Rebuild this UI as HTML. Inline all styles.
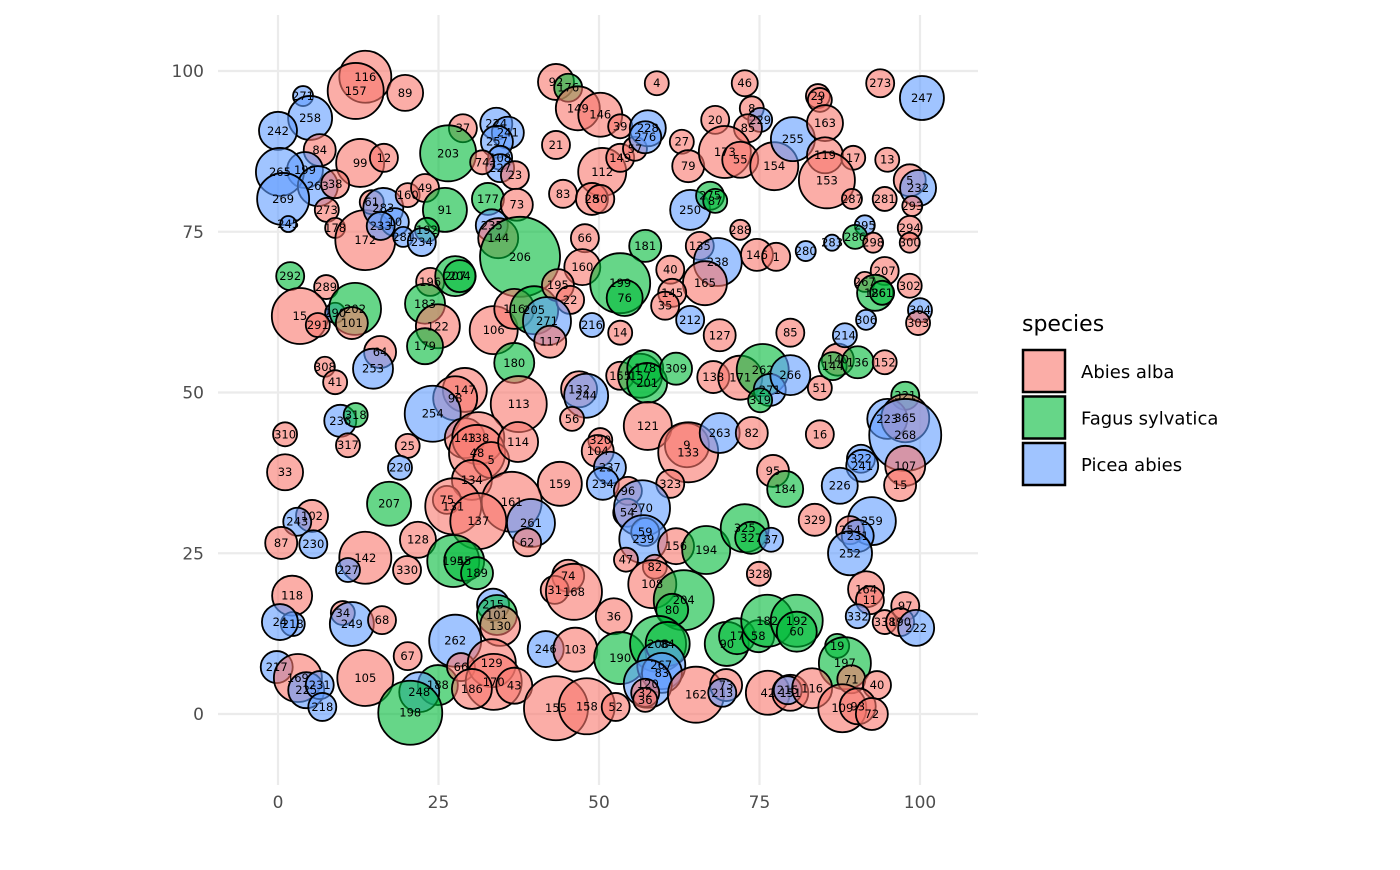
<!DOCTYPE html>
<html><head><meta charset="utf-8"><style>
body{margin:0;background:#fff;}
svg text{font-family:"DejaVu Sans","Liberation Sans",sans-serif;}
</style></head><body>
<svg id="chart" width="1400" height="865" viewBox="0 0 1400 865" xmlns="http://www.w3.org/2000/svg">
<g id="grid"></g>
<g id="marks"></g>
<g id="labels"></g>
<g id="axes"></g>
<g id="legend">
<text x="1022" y="331" font-size="22" fill="#000">species</text>
</g>
</svg>
<script>
const speciesNames = ["Abies alba","Fagus sylvatica","Picea abies"];
const speciesFill = ["rgba(248,118,109,0.6)","rgba(0,186,56,0.6)","rgba(97,156,255,0.6)"];
const xTicks = [0,25,50,75,100];
const yTicks = [0,25,50,75,100];
const treeIds = [116,157,89,271,258,242,84,99,12,199,265,263,38,269,273,245,178,172,61,283,160,10,281,233,49,91,192,234,37,203,224,241,257,108,227,23,74,177,73,235,144,206,92,176,149,146,39,21,112,149,57,4,228,276,27,79,20,46,8,229,85,173,55,154,255,29,3,163,119,17,13,153,287,281,5,232,293,273,247,83,28,50,250,275,87,66,181,288,135,146,1,238,280,283,295,286,298,294,300,160,199,76,40,165,145,35,207,267,186,261,302,304,303,292,289,15,290,291,202,101,196,207,204,183,122,179,64,253,308,41,106,116,205,195,22,271,117,216,14,180,127,85,212,155,157,178,201,309,138,171,262,271,319,266,51,140,144,136,152,214,306,113,147,98,254,132,244,56,121,9,133,263,82,16,321,223,365,268,322,241,107,15,226,95,184,329,259,254,231,252,164,11,97,338,190,222,332,310,236,318,317,25,220,33,143,138,48,5,114,320,104,237,159,234,96,323,134,161,75,131,137,261,62,207,102,243,87,230,142,227,330,128,195,45,189,54,270,59,239,156,194,325,327,37,328,47,82,108,74,31,168,204,80,36,118,34,249,68,218,24,215,101,130,262,246,103,190,208,84,90,17,58,182,192,60,19,197,67,217,169,225,231,218,105,188,248,198,66,129,170,186,43,155,158,52,267,83,120,32,36,162,73,213,42,151,215,116,71,40,109,93,72];
const treeX = [13.6,12.1,19.8,3.9,5.0,0,6.5,12.8,16.5,4.2,0.3,6.2,8.9,0.8,7.6,1.6,8.9,13.6,14.6,16.4,20.2,18.2,19.5,16.0,22.9,26.0,23.2,22.4,28.8,26.5,34.0,35.8,34.1,34.6,34.6,36.9,31.8,32.7,37.2,33.3,34.3,37.7,43.3,45.2,46.7,50.2,53.3,43.3,50.5,53.3,55.6,59.0,57.6,57.2,62.9,63.9,68.1,72.7,73.8,75.1,73.2,69.6,72.0,77.3,80.2,84.1,84.4,85.2,85.2,89.6,94.9,85.5,89.4,94.5,98.4,99.7,98.8,93.8,100.3,44.4,48.9,50.2,64.2,67.3,68.1,47.8,57.2,72.0,65.7,74.6,77.6,68.5,82.2,86.3,91.4,89.9,92.7,98.4,98.4,47.4,53.3,54.0,61.1,66.5,61.4,60.3,94.5,91.4,93.0,94.1,98.4,100,99.7,1.9,7.5,3.4,8.9,6.2,12.0,11.5,23.7,27.6,28.3,22.9,24.9,22.9,15.9,14.8,7.3,8.9,33.6,36.8,39.9,43.6,45.5,41.9,42.4,48.9,53.3,36.8,68.8,79.8,64.2,53.3,56.4,57.2,57.5,62.0,67.8,72.0,75.5,76.6,75.1,79.8,84.4,87.2,86.4,90.3,94.5,88.3,91.6,37.5,29.1,27.6,24.1,46.9,48.0,45.8,57.6,63.7,63.9,68.8,73.8,84.4,97.7,94.9,97.7,97.7,90.8,91.0,97.7,96.9,87.5,77.1,79.0,83.6,92.5,89.1,90.3,89.1,91.6,92.2,97.7,94.5,96.9,99.4,90.3,1.1,9.7,12.1,10.9,20.2,19.0,1.1,29.1,31.2,31.0,33.2,37.4,50.2,49.8,51.7,43.9,50.6,54.5,61.1,30.2,36.4,26.3,27.3,31.2,39.4,38.8,17.3,5.3,3.0,0.5,5.5,13.6,10.9,20.1,21.8,27.3,29.0,31.0,54.4,56.7,57.2,56.9,62.0,66.7,72.7,73.7,76.8,74.9,54.2,58.7,58.3,45.2,43.1,46.1,63.2,61.4,52.3,2.2,10.1,11.5,16.2,2.3,0.3,33.5,34.1,34.6,27.6,41.7,46.3,53.3,59.2,60.7,69.9,71.5,74.8,76.2,80.8,80.8,87.1,88.3,20.2,-0.2,3.1,4.4,6.5,6.9,13.6,24.9,22.0,20.6,28.5,33.3,33.6,30.2,36.8,43.3,48.1,52.6,59.7,59.8,57.6,57.2,57.2,65.1,69.8,69.2,76.3,79.8,79.4,83.2,89.3,93.3,87.9,90.3,92.5];
const treeY = [99.1,96.9,96.6,96.1,92.7,90.7,87.7,85.7,86.5,84.6,84.3,82.1,82.4,80.1,78.4,76.2,75.6,73.7,79.6,78.7,80.7,76.5,74.2,75.9,81.8,78.4,75.3,73.4,91.1,87.2,91.8,90.4,89.0,86.5,84.9,83.8,85.8,80.1,79.2,76.0,74.0,71.1,98.3,97.4,94.2,93.2,91.4,88.5,84.3,86.5,87.9,98.1,91.1,89.7,89.0,85.2,92.4,98.1,94.2,92.4,91.1,87.4,86.2,85.2,89.4,96.1,95.5,91.9,86.9,86.5,86.2,83.0,80.1,80.1,83.0,81.8,79.0,98.1,95.8,80.9,80.1,80.1,78.4,80.6,79.8,74.0,72.8,75.3,72.8,71.4,71.1,70.3,72.0,73.3,76.0,74.2,73.3,75.6,73.3,69.5,67.0,64.7,69.1,67.0,65.5,63.5,68.9,67.2,65.5,65.5,66.6,62.8,60.8,68.1,66.4,61.9,62.4,60.5,63.0,60.8,67.2,68.1,68.1,63.8,60.3,57.2,56.3,53.7,54.0,51.6,59.7,63.0,62.8,66.7,64.4,61.1,57.9,60.5,59.3,54.6,58.9,59.3,61.3,52.6,52.6,53.8,51.5,53.7,52.4,52.3,53.5,50.4,48.8,52.7,50.7,55.1,54.1,54.7,54.7,58.9,61.3,48.2,50.4,49.1,46.7,50.5,49.5,45.9,44.8,41.8,40.7,43.7,43.7,43.5,49.5,45.9,46.0,43.4,39.7,38.6,38.6,35.6,35.5,37.8,35.0,30.2,30.0,28.6,27.7,25.0,19.4,17.7,16.8,14.3,14.3,13.4,15.2,43.5,45.6,46.5,41.8,41.7,38.3,37.6,42.9,42.9,40.6,39.5,42.3,42.6,40.9,38.3,35.8,35.8,34.7,35.8,36.4,33.0,33.3,32.3,30.0,29.7,26.7,32.7,30.8,29.9,26.6,26.4,24.3,22.4,22.4,27.1,23.8,23.8,21.9,31.3,32.0,28.3,27.2,26.1,25.5,28.9,27.4,27.1,21.8,24.0,22.9,20.2,21.5,19.3,19.0,17.7,16.2,15.2,18.4,15.7,14.0,14.6,14.0,14.3,17.0,15.4,13.7,11.4,10.1,10.0,8.7,10.9,10.9,10.9,12.1,12.1,14.5,14.5,12.8,10.6,7.9,9.0,7.3,5.6,3.7,4.5,1.1,5.6,4.5,3.4,0.2,7.3,7.9,5.0,3.9,4.4,0.9,1.2,1.1,7.6,6.4,4.7,3.3,2.2,3.0,4.5,3.3,3.3,3.3,3.7,4.0,5.4,4.5,0.9,1.2,0];
const treeDbh = [26,28,18,10,22,19,16,24,14,18,24,20,14,26,12,8,10,30,12,20,12,14,10,14,14,22,12,14,14,28,16,16,16,12,14,14,12,16,16,16,20,40,18,14,22,22,12,14,24,14,12,12,18,16,12,16,14,13,12,12,14,26,18,24,22,12,12,18,18,12,12,28,10,12,16,18,10,14,22,14,16,14,20,14,12,14,16,10,14,16,14,24,10,8,10,12,10,12,10,18,30,18,14,22,14,14,14,10,18,12,12,12,12,14,12,28,10,12,26,16,14,20,16,20,22,18,16,20,10,12,24,20,24,16,14,24,16,12,12,20,16,14,14,14,22,18,20,16,16,22,26,16,12,20,12,16,14,16,12,12,10,28,22,22,28,18,22,12,24,22,30,20,16,14,14,20,24,36,14,16,20,16,18,16,18,16,24,14,16,22,18,14,14,12,14,18,12,12,16,12,12,12,12,18,20,26,28,18,20,12,16,16,22,16,14,14,20,30,14,28,28,24,14,22,16,14,16,14,26,12,14,18,26,20,16,14,28,14,24,18,24,24,16,12,12,12,12,24,16,14,28,30,16,18,20,12,22,14,12,18,16,20,20,26,18,22,26,28,22,22,18,16,26,26,20,12,26,14,16,24,18,14,14,28,20,20,32,14,24,28,20,18,32,28,14,24,20,24,14,12,28,16,14,22,18,14,20,14,14,24,18,16];
const treeSpecies = [
"AAAPPPAAAP","PPAPAPAAAP","APPPAFFPAF","PPPPPAAFAP","AFAFAAAAAA","AAPPAAAAAP",
"AAAAPAAAAA","AAAAAPAAPA","AAPFFAFAAA","APPPPFAAAA","FFAAAAAAFF","APAFAAPAFA",
"AFFFAFAPAA","AAFAAPAPAF","AAPAFFFFAA","FPFPAAFFAP","PAAAPAPAAA","APAAFPAPPP",
"AAPAFAPAPP","AAAAAPPAPF","AAPAAAAAAA","APAPAAAAAA","APAFAPAPAP","AAFFFAPPPA",
"FFFPAAAAAA","AFFAAAPAPP","PFAPPAFFFF","FFFFFFFAPA","PPPAFPFAAA","AAAAAPPPAA",
"AAPAAPAAAAAA"].join("").split("");
const speciesCode = {A:0,F:1,P:2};

const NS = "http://www.w3.org/2000/svg";
const X0=218, X1=978, Y0=15, Y1=785;
function xScale(v){ return 278 + v*6.42; }
function yScale(v){ return 714 - v*6.43; }
function rScale(d){ return d*1.0; }
function mk(tag, attrs, parent){ const e=document.createElementNS(NS,tag); for(const k in attrs) e.setAttribute(k,attrs[k]); parent.appendChild(e); return e; }

const grid=document.getElementById('grid');
xTicks.forEach(t=>{
  const l=mk('line',{x1:xScale(t),x2:xScale(t),y1:Y0,y2:Y1,stroke:'#ebebeb','stroke-width':2.2},grid);
  
  
});
yTicks.forEach(t=>{
  const l=mk('line',{x1:X0,x2:X1,y1:yScale(t),y2:yScale(t),stroke:'#ebebeb','stroke-width':2.2},grid);
  
  
});
const axes=document.getElementById('axes');
xTicks.forEach(t=>{
  const tx=mk('text',{x:xScale(t),y:808,'text-anchor':'middle','font-size':17,fill:'#4d4d4d'},axes);
  tx.textContent=t;
  
  
});
yTicks.forEach(t=>{
  const tx=mk('text',{x:204,y:yScale(t)+6,'text-anchor':'end','font-size':17,fill:'#4d4d4d'},axes);
  tx.textContent=t;
  
  
});

const marks=document.getElementById('marks'), labels=document.getElementById('labels');
for(let i=0;i<treeIds.length;i++){
  const s=speciesCode[treeSpecies[i]] ?? 0;
  const c=mk('circle',{cx:xScale(treeX[i]),cy:yScale(treeY[i]),r:rScale(treeDbh[i]),fill:speciesFill[s],stroke:'#000','stroke-width':1.8},marks);
  
  
  const t=mk('text',{x:xScale(treeX[i]),y:yScale(treeY[i])+4,'text-anchor':'middle','font-size':11.5,fill:'#000'},labels);
  t.textContent=treeIds[i];
  
  
}

const legend=document.getElementById('legend');
speciesNames.forEach((n,i)=>{
  const y=350+i*46.5;
  const r=mk('rect',{x:1023,y:y,width:42,height:42,fill:speciesFill[i],stroke:'#000','stroke-width':2.5},legend);
  
  
  const t=mk('text',{x:1081,y:y+28,'font-size':18,fill:'#000'},legend);
  t.textContent=n;
  
  
});
</script>
</body></html>
